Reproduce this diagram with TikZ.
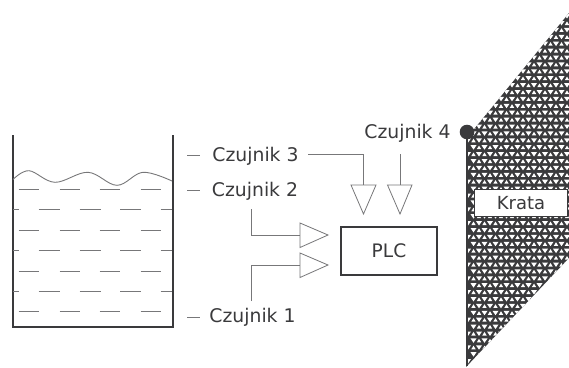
\documentclass[tikz,border=0pt]{standalone}
\usepackage{fontspec}
\setmainfont{DejaVu Sans}
\definecolor{ink}{HTML}{3A3A3C}
\definecolor{thin}{HTML}{777779}
\tikzset{
  x=1pt,y=-1pt,
  label/.style={text=ink,font=\fontsize{18.8}{22}\selectfont,inner sep=0pt,anchor=center},
  wire/.style={draw=thin,line width=0.9pt},
  amp/.style={draw=thin,line width=0.8pt,fill=white,line join=miter},
  wall/.style={draw=ink,line width=2pt},
  water/.style={draw=thin,line width=0.9pt}
}
\begin{document}
\begin{tikzpicture}
\useasboundingbox (0,0) rectangle (569,367);
% tank
\draw[wall,line join=miter] (12.5,135) -- (12.5,327) -- (172.5,327) -- (172.5,135);
\draw[water] plot[smooth,tension=0.6] coordinates {(13,179.5) (29,170.7) (55,182.3) (88,172.3) (117,185.3) (143,172.3) (172,181)};
\foreach \y in {189.3,230,271,311.7}
  \foreach \x in {18.5,59.5,99.5,140.5}
    \draw[water] (\x,\y) -- ++(20.5,0);
\foreach \y in {209.7,250.3,291}{
  \draw[water] (13,\y) -- (18.5,\y);
  \foreach \x in {38.5,79.5,120}
    \draw[water] (\x,\y) -- ++(21,0);
  \draw[water] (160.5,\y) -- (172,\y);
}
% grate
\begin{scope}
\clip (466,139) -- (569,13) -- (569,258) -- (466,367) -- cycle;
\fill[ink] (460,0) rectangle (569,367);
\foreach \r in {0,...,53}{
  \pgfmathsetmacro{\yy}{2.5+\r*6.9}
  \pgfmathsetmacro{\off}{mod(\r,2)*5.5}
  \foreach \c in {0,...,11}{
    \pgfmathsetmacro{\xa}{468+\off+\c*11}
    \fill[white] (\xa-3,\yy-2.2) -- (\xa+3,\yy-2.2) -- (\xa,\yy+2.2) -- cycle;
    \fill[white] (\xa+5.5-2.2,\yy+1.8) -- (\xa+5.5+2.2,\yy+1.8) -- (\xa+5.5,\yy-1.8) -- cycle;
  }
}
\end{scope}
\draw[ink,line width=2.4pt] (467,132) -- (467,366);
\fill[ink] (467,132) circle (7.3);
\node[draw=ink,line width=1.8pt,fill=white,minimum width=93pt,minimum height=27pt,inner sep=0pt,text=ink,font=\fontsize{18}{20}\selectfont] (krata) at (521,203) {Krata};
% labels
\node[label] (c3) at (255.5,156) {Czujnik 3};
\node[label] (c2) at (255,191) {Czujnik 2};
\node[label] (c1) at (252.5,317) {Czujnik 1};
\node[label] (c4) at (407.5,133) {Czujnik 4};
\node[draw=ink,line width=1.3pt,minimum width=96pt,minimum height=48pt,inner sep=0pt,text=ink,font=\fontsize{18.6}{20}\selectfont] (plc) at (389,251) {PLC};
% sensor ticks
\coordinate (t3a) at (187,155.7); \coordinate (t3b) at (200,155.7);
\coordinate (t2a) at (187,190); \coordinate (t2b) at (200,190);
\coordinate (t1a) at (187,317.3); \coordinate (t1b) at (200,317.3);
\draw[wire] (t3a) -- (t3b); \draw[wire] (t2a) -- (t2b); \draw[wire] (t1a) -- (t1b);
% amplifier triangles
\coordinate (a3) at (363.5,185); \coordinate (a4) at (400,185);
\coordinate (a2) at (300,235); \coordinate (a1) at (300,265);
\draw[amp] (351,185) -- (376,185) -- (363.5,214) -- cycle;
\draw[amp] (387.5,185) -- (412,185) -- (400,214) -- cycle;
\draw[amp] (300,223) -- (300,247.5) -- (328,235) -- cycle;
\draw[amp] (300,253) -- (300,277.5) -- (328,265) -- cycle;
% connectors
\coordinate (s3) at (308,154.3); \coordinate (s4) at (400,154.3);
\coordinate (s2) at (251,209); \coordinate (s1) at (251,301);
\draw[wire] (s3) -| (a3);
\draw[wire] (s4) -- (a4);
\draw[wire] (s2) |- (a2);
\draw[wire] (s1) |- (a1);
\end{tikzpicture}
\end{document}
